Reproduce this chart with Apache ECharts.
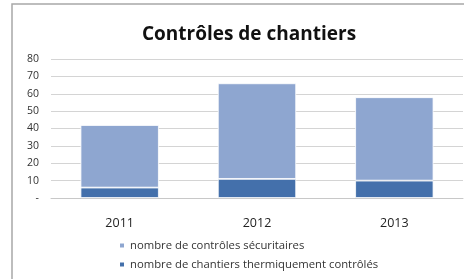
<!DOCTYPE html>
<html>
<head>
<meta charset="utf-8">
<script src="https://cdn.jsdelivr.net/npm/echarts@6/dist/echarts.min.js"></script>
<style>
  html, body { margin: 0; padding: 0; background: #fff; }
  #chart { width: 464px; height: 279px; }
</style>
</head>
<body>
<div id="chart"></div>
<script>
// données du graphique
const years = ['2011', '2012', '2013'];
const thermalControls = [6, 11, 10];     // nombre de chantiers thermiquement contrôlés
const safetyControls = [36, 55, 48];     // nombre de contrôles sécuritaires (empilé)
const yTicks = [0, 10, 20, 30, 40, 50, 60, 70, 80];

const chart = echarts.init(document.getElementById('chart'));

const font = '"Open Sans", "Liberation Sans", sans-serif';

const options = {
  animation: false,
  textStyle: { fontFamily: font },
  // cadre du graphique (style Excel)
  graphic: [{
    type: 'rect',
    shape: { x: 12, y: 4, width: 480, height: 300 },
    style: { fill: 'none', stroke: '#a8a8a8', lineWidth: 1.5 },
    silent: true
  }],
  title: {
    text: 'Contrôles de chantiers',
    left: 244,
    textAlign: 'center',
    top: 20,
    textStyle: { fontFamily: font, fontSize: 19, fontWeight: 'bold', color: '#111' }
  },
  grid: { left: 51, right: 1, top: 59, bottom: 81, containLabel: false },
  legend: {
    orient: 'vertical',
    left: 113,
    top: 235,
    itemWidth: 6,
    itemHeight: 6,
    itemGap: 8,
    icon: 'rect',
    textStyle: { fontFamily: font, fontSize: 11.3, color: '#333' },
    data: ['nombre de contrôles sécuritaires', 'nombre de chantiers thermiquement contrôlés']
  },
  xAxis: {
    type: 'category',
    data: years,
    axisLine: { lineStyle: { color: '#c8c8c8' } },
    axisTick: { show: false },
    axisLabel: { color: '#222', fontSize: 12.5, margin: 19, fontFamily: font }
  },
  yAxis: {
    type: 'value',
    min: 0,
    max: 80,
    interval: 10,
    axisLine: { show: false },
    axisTick: { show: false },
    axisLabel: {
      color: '#333',
      fontSize: 10.5,
      margin: 12,
      fontFamily: font,
      formatter: v => (v === 0 ? '-' : (yTicks.includes(v) ? String(v) : ''))
    },
    splitLine: { lineStyle: { color: '#d4d4d4' } }
  },
  series: [
    {
      name: 'nombre de chantiers thermiquement contrôlés',
      type: 'bar',
      stack: 'total',
      barWidth: '57%',
      itemStyle: { color: '#4470ab', borderColor: '#fff', borderWidth: 0.8 },
      data: thermalControls
    },
    {
      name: 'nombre de contrôles sécuritaires',
      type: 'bar',
      stack: 'total',
      barWidth: '57%',
      itemStyle: { color: '#8ea6d0', borderColor: '#fff', borderWidth: 0.8 },
      data: safetyControls
    }
  ]
};

chart.setOption(options);
</script>
</body>
</html>
